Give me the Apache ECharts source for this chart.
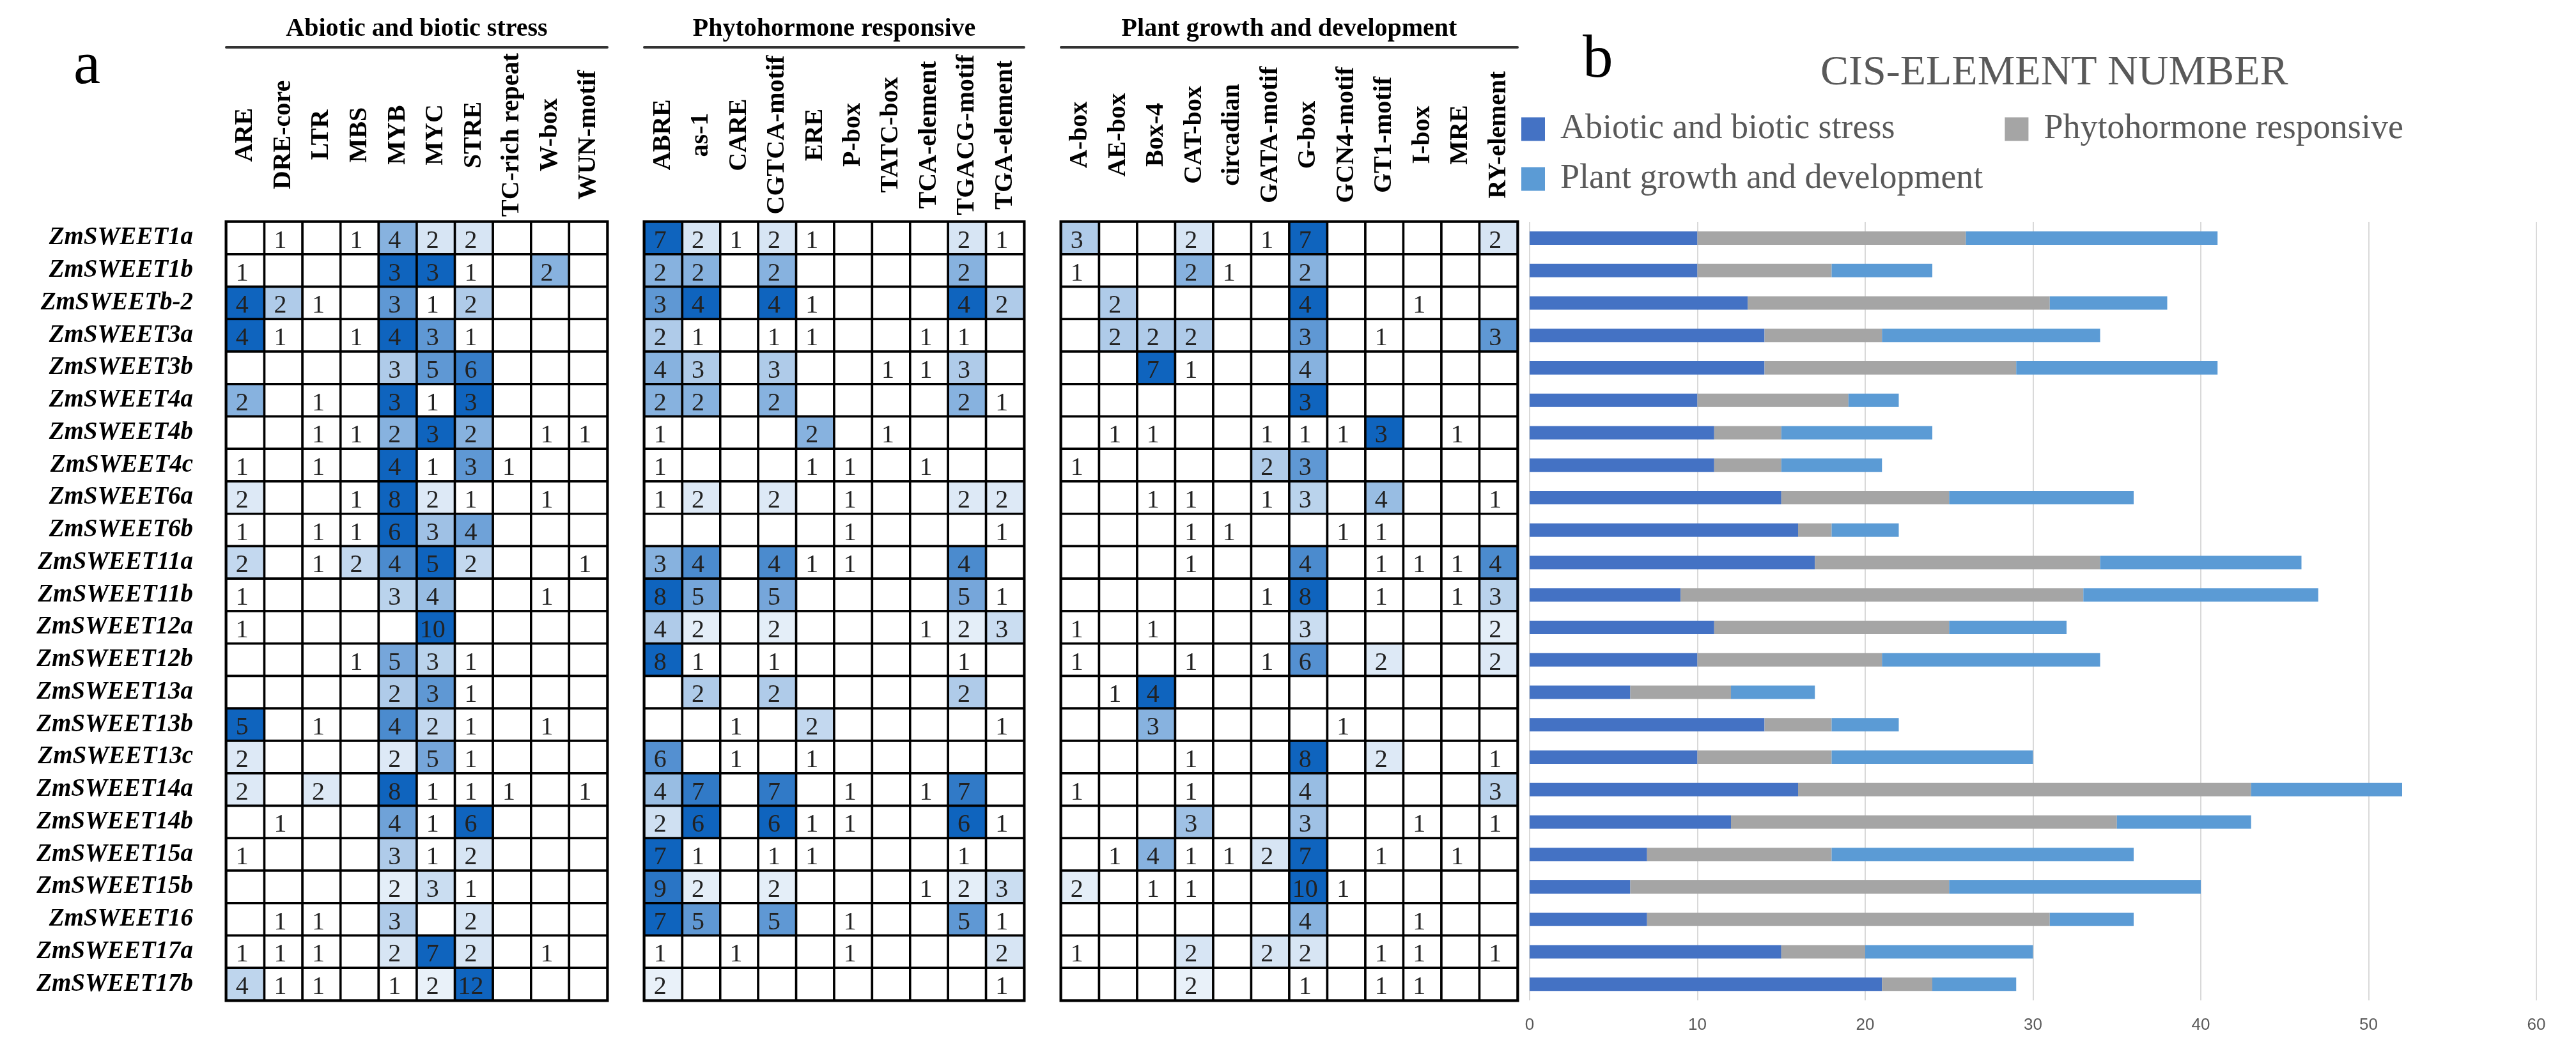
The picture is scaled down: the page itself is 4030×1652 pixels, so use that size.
<!DOCTYPE html>
<html>
<head>
<meta charset="utf-8">
<script src="https://cdn.jsdelivr.net/npm/echarts@6/dist/echarts.min.js"></script>
<style>
html,body{margin:0;padding:0;background:#fff;}
#chart{width:4030px;height:1652px;}
</style>
</head>
<body>
<div id="chart"></div>
<script>
// ---------------- DATA ----------------
const genes = ['ZmSWEET1a','ZmSWEET1b','ZmSWEETb-2','ZmSWEET3a','ZmSWEET3b','ZmSWEET4a','ZmSWEET4b','ZmSWEET4c','ZmSWEET6a','ZmSWEET6b','ZmSWEET11a','ZmSWEET11b','ZmSWEET12a','ZmSWEET12b','ZmSWEET13a','ZmSWEET13b','ZmSWEET13c','ZmSWEET14a','ZmSWEET14b','ZmSWEET15a','ZmSWEET15b','ZmSWEET16','ZmSWEET17a','ZmSWEET17b'];

const groupNames = ['Abiotic and biotic stress','Phytohormone responsive','Plant growth and development'];

const abioticCols = ['ARE','DRE-core','LTR','MBS','MYB','MYC','STRE','TC-rich repeat','W-box','WUN-motif'];
const phytoCols = ['ABRE','as-1','CARE','CGTCA-motif','ERE','P-box','TATC-box','TCA-element','TGACG-motif','TGA-element'];
const growthCols = ['A-box','AE-box','Box-4','CAT-box','circadian','GATA-motif','G-box','GCN4-motif','GT1-motif','I-box','MRE','RY-element'];

// 0 = blank cell
const abioticCounts = [
[0,1,0,1,4,2,2,0,0,0],
[1,0,0,0,3,3,1,0,2,0],
[4,2,1,0,3,1,2,0,0,0],
[4,1,0,1,4,3,1,0,0,0],
[0,0,0,0,3,5,6,0,0,0],
[2,0,1,0,3,1,3,0,0,0],
[0,0,1,1,2,3,2,0,1,1],
[1,0,1,0,4,1,3,1,0,0],
[2,0,0,1,8,2,1,0,1,0],
[1,0,1,1,6,3,4,0,0,0],
[2,0,1,2,4,5,2,0,0,1],
[1,0,0,0,3,4,0,0,1,0],
[1,0,0,0,0,10,0,0,0,0],
[0,0,0,1,5,3,1,0,0,0],
[0,0,0,0,2,3,1,0,0,0],
[5,0,1,0,4,2,1,0,1,0],
[2,0,0,0,2,5,1,0,0,0],
[2,0,2,0,8,1,1,1,0,1],
[0,1,0,0,4,1,6,0,0,0],
[1,0,0,0,3,1,2,0,0,0],
[0,0,0,0,2,3,1,0,0,0],
[0,1,1,0,3,0,2,0,0,0],
[1,1,1,0,2,7,2,0,1,0],
[4,1,1,0,1,2,12,0,0,0]
];

const phytoCounts = [
[7,2,1,2,1,0,0,0,2,1],
[2,2,0,2,0,0,0,0,2,0],
[3,4,0,4,1,0,0,0,4,2],
[2,1,0,1,1,0,0,1,1,0],
[4,3,0,3,0,0,1,1,3,0],
[2,2,0,2,0,0,0,0,2,1],
[1,0,0,0,2,0,1,0,0,0],
[1,0,0,0,1,1,0,1,0,0],
[1,2,0,2,0,1,0,0,2,2],
[0,0,0,0,0,1,0,0,0,1],
[3,4,0,4,1,1,0,0,4,0],
[8,5,0,5,0,0,0,0,5,1],
[4,2,0,2,0,0,0,1,2,3],
[8,1,0,1,0,0,0,0,1,0],
[0,2,0,2,0,0,0,0,2,0],
[0,0,1,0,2,0,0,0,0,1],
[6,0,1,0,1,0,0,0,0,0],
[4,7,0,7,0,1,0,1,7,0],
[2,6,0,6,1,1,0,0,6,1],
[7,1,0,1,1,0,0,0,1,0],
[9,2,0,2,0,0,0,1,2,3],
[7,5,0,5,0,1,0,0,5,1],
[1,0,1,0,0,1,0,0,0,2],
[2,0,0,0,0,0,0,0,0,1]
];

const growthCounts = [
[3,0,0,2,0,1,7,0,0,0,0,2],
[1,0,0,2,1,0,2,0,0,0,0,0],
[0,2,0,0,0,0,4,0,0,1,0,0],
[0,2,2,2,0,0,3,0,1,0,0,3],
[0,0,7,1,0,0,4,0,0,0,0,0],
[0,0,0,0,0,0,3,0,0,0,0,0],
[0,1,1,0,0,1,1,1,3,0,1,0],
[1,0,0,0,0,2,3,0,0,0,0,0],
[0,0,1,1,0,1,3,0,4,0,0,1],
[0,0,0,1,1,0,0,1,1,0,0,0],
[0,0,0,1,0,0,4,0,1,1,1,4],
[0,0,0,0,0,1,8,0,1,0,1,3],
[1,0,1,0,0,0,3,0,0,0,0,2],
[1,0,0,1,0,1,6,0,2,0,0,2],
[0,1,4,0,0,0,0,0,0,0,0,0],
[0,0,3,0,0,0,0,1,0,0,0,0],
[0,0,0,1,0,0,8,0,2,0,0,1],
[1,0,0,1,0,0,4,0,0,0,0,3],
[0,0,0,3,0,0,3,0,0,1,0,1],
[0,1,4,1,1,2,7,0,1,0,1,0],
[2,0,1,1,0,0,10,1,0,0,0,0],
[0,0,0,0,0,0,4,0,0,1,0,0],
[1,0,0,2,0,2,2,0,1,1,0,1],
[0,0,0,2,0,0,1,0,1,1,0,0]
];

// stacked bar values (panel b)
const abioticTotals = [10,10,13,14,14,10,11,11,15,16,17,9,11,10,6,14,10,16,12,7,6,7,15,21];
const phytoTotals   = [16,8,18,7,15,9,4,4,10,2,17,24,14,11,6,4,8,27,23,11,19,24,5,3];
const growthTotals  = [15,6,7,13,12,3,9,6,11,4,12,14,7,13,5,4,12,9,8,18,15,5,10,5];

const xTicks = [0,10,20,30,40,50,60];

// ---------------- BUILD ----------------
const SERIF = '"Liberation Serif","Times New Roman",serif';
const DARK = [15,100,190];
const TOP = 347, HEIGHT = 1218, HEADER_GAP = 136;

// per-gene colour scale over all three tables
const rowMin = [], rowMax = [];
genes.forEach((g, r) => {
  const vals = [].concat(abioticCounts[r], phytoCounts[r], growthCounts[r]).filter(v => v > 0);
  rowMin.push(Math.min.apply(null, vals));
  rowMax.push(Math.max.apply(null, vals));
});
function cellColor(v, r) {
  if (!v) return '#ffffff';
  const span = rowMax[r] - rowMin[r];
  const t = span > 0 ? (v - rowMin[r]) / span : 1;
  const c = DARK.map(d => Math.round(255 + (d - 255) * t));
  return 'rgb(' + c.join(',') + ')';
}

function cellData(matrix) {
  const out = [];
  matrix.forEach((row, r) => row.forEach((v, c) => out.push([c, r, v])));
  return out;
}

function renderCell(params, api) {
  const c = api.value(0), r = api.value(1), v = api.value(2);
  const p = api.coord([c, r]);
  const s = api.size([1, 1]);
  const children = [{
    type: 'rect',
    shape: { x: p[0] - s[0] / 2, y: p[1] - s[1] / 2, width: s[0], height: s[1] },
    style: { fill: cellColor(v, r), stroke: '#000', lineWidth: 3.5 }
  }];
  if (v) {
    children.push({
      type: 'text',
      x: p[0] - 5, y: p[1] + 5,
      style: { text: String(v), fill: '#222', fontSize: 40, fontFamily: SERIF,
               align: 'center', verticalAlign: 'middle' }
    });
  }
  return { type: 'group', children: children };
}

function headerRenderer(cols) {
  return function (params, api) {
    const k = api.value(0);
    const p = api.coord([k, 0]);
    return {
      type: 'text',
      x: p[0], y: TOP - HEADER_GAP,
      rotation: Math.PI / 2,
      style: { text: cols[k], fill: '#000', fontSize: 40, fontWeight: 'bold', fontFamily: SERIF,
               align: 'center', verticalAlign: 'middle' }
    };
  };
}

const tableGrids = [
  { left: 354, width: 596, cols: abioticCols, data: abioticCounts },
  { left: 1008, width: 594, cols: phytoCols, data: phytoCounts },
  { left: 1660, width: 714, cols: growthCols, data: growthCounts }
];

const grid = [], xAxis = [], yAxis = [], series = [];
tableGrids.forEach((t, i) => {
  grid.push({ left: t.left, top: TOP, width: t.width, height: HEIGHT,
              show: true, borderColor: '#000', borderWidth: 5, backgroundColor: 'transparent' });
  xAxis.push({
    type: 'category', gridIndex: i, data: t.cols, position: 'top',
    axisLine: { show: false }, axisTick: { show: false }, axisLabel: { show: false }
  });
  yAxis.push({
    type: 'category', gridIndex: i, data: genes, inverse: true,
    show: i === 0,
    axisLine: { show: false }, axisTick: { show: false },
    axisLabel: { margin: 52, fontFamily: SERIF, fontWeight: 'bold', fontStyle: 'italic',
                 fontSize: 39, color: '#000' }
  });
  series.push({
    type: 'custom', xAxisIndex: i, yAxisIndex: i,
    data: cellData(t.data), encode: { x: 0, y: 1 },
    renderItem: renderCell, silent: true
  });
  // column headers (rotated, centred between title rule and table)
  series.push({
    type: 'custom', xAxisIndex: i, yAxisIndex: i, clip: false,
    data: t.cols.map((c, k) => [k, 0]), encode: { x: 0, y: 1 },
    renderItem: headerRenderer(t.cols), silent: true
  });
});
// group title axes (underline + name)
tableGrids.forEach((t, i) => {
  xAxis.push({
    type: 'category', gridIndex: i, data: t.cols, position: 'top', offset: 273,
    axisLine: { show: true, lineStyle: { color: '#333', width: 4 } },
    axisTick: { show: false }, axisLabel: { show: false },
    name: groupNames[i], nameLocation: 'middle', nameGap: 8,
    nameTextStyle: { fontFamily: SERIF, fontWeight: 'bold', fontSize: 40, color: '#000' }
  });
});

// bar chart
grid.push({ left: 2393, top: TOP, width: 1575, height: HEIGHT });
xAxis.push({
  type: 'value', gridIndex: 3, min: xTicks[0], max: xTicks[xTicks.length - 1], interval: 10,
  axisLine: { show: false }, axisTick: { show: false },
  splitLine: { show: true, lineStyle: { color: '#d9d9d9', width: 2 } },
  axisLabel: { margin: 26, fontFamily: '"Liberation Sans",Arial,sans-serif', fontSize: 26, color: '#595959' }
});
yAxis.push({
  type: 'category', gridIndex: 3, data: genes, inverse: true, show: false
});
const barColors = ['#4472C4', '#A5A5A5', '#5B9BD5'];
[abioticTotals, phytoTotals, growthTotals].forEach((arr, k) => {
  series.push({
    type: 'bar', name: groupNames[k], stack: 'total', xAxisIndex: 6, yAxisIndex: 3,
    data: arr, barWidth: 21, itemStyle: { color: barColors[k] }, silent: true
  });
});

const legendText = { fontFamily: SERIF, fontSize: 54, color: '#595959', padding: [0, 0, 0, 19] };
const option = {
  backgroundColor: '#ffffff',
  animation: false,
  title: [
    { text: 'a', left: 115, top: 58, padding: 0,
      textStyle: { fontFamily: SERIF, fontSize: 95, fontWeight: 'normal', color: '#000' } },
    { text: 'b', left: 2476, top: 48, padding: 0,
      textStyle: { fontFamily: SERIF, fontSize: 95, fontWeight: 'normal', color: '#000' } },
    { text: 'CIS-ELEMENT NUMBER', left: 2848, top: 82, padding: 0,
      textStyle: { fontFamily: SERIF, fontSize: 66, fontWeight: 'normal', color: '#595959' } }
  ],
  legend: [
    { data: [groupNames[0], groupNames[1]], left: 2380, top: 175, orient: 'horizontal',
      icon: 'rect', itemWidth: 37, itemHeight: 37, itemGap: 172, selectedMode: false,
      padding: 0, textStyle: legendText },
    { data: [groupNames[2]], left: 2380, top: 253, orient: 'horizontal',
      icon: 'rect', itemWidth: 37, itemHeight: 37, selectedMode: false,
      padding: 0, textStyle: legendText }
  ],
  grid: grid,
  xAxis: xAxis,
  yAxis: yAxis,
  series: series
};

const chart = echarts.init(document.getElementById('chart'), null, { renderer: 'canvas' });
chart.setOption(option);
</script>
</body>
</html>
